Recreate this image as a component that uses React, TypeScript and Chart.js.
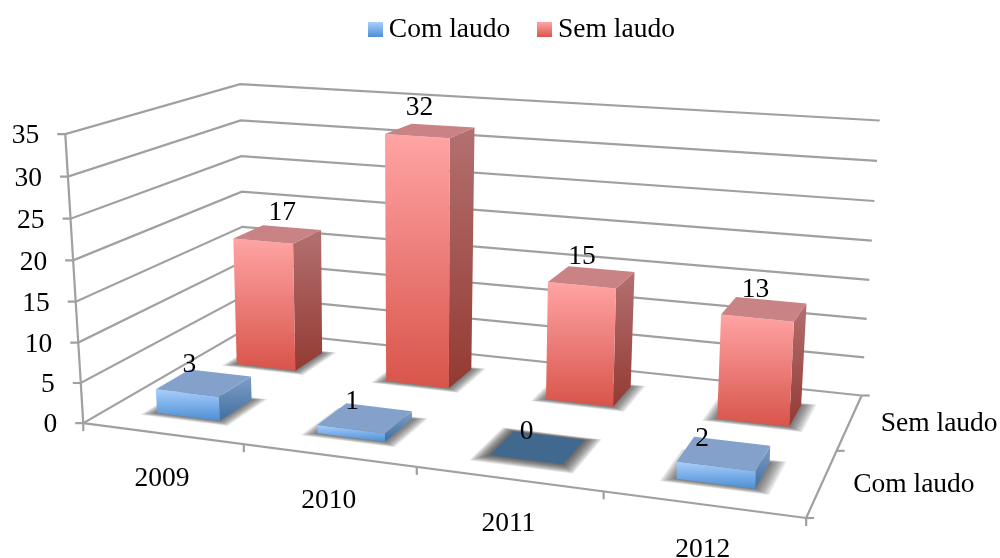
import React, { useEffect, useRef } from "react";
import { Chart, registerables } from "chart.js";

Chart.register(...registerables);

const years = ["2009", "2010", "2011", "2012"];
const rows = ["Com laudo", "Sem laudo"];
const comLaudo = [3, 1, 0, 2];
const semLaudo = [17, 32, 15, 13];
const yMax = 35;
const yStep = 5;

const FONT = '27.5px "Liberation Serif"';
const GRID = "#a0a0a0";

type P = [number, number];
type Ref = { uv: P; xy: P };
// Projected reference points of the 3D box (u along years, d into depth)
const floorRefs: Ref[] = [
  { uv: [0, 0], xy: [83, 422] },
  { uv: [0.25, 0], xy: [244, 444] },
  { uv: [0.5, 0], xy: [417, 467] },
  { uv: [0.75, 0], xy: [604, 492] },
  { uv: [1, 0], xy: [806, 518] },
  { uv: [1, 0.5], xy: [836, 452] },
  { uv: [1, 1], xy: [862, 394] },
  { uv: [0, 1], xy: [244, 331] },
];
// Full-height upright vector at each floor corner: front-left, front-right, back-right, back-left
const uprights: P[] = [
  [-18, -289],
  [8, -323],
  [18, -275],
  [-4, -246],
];
const HEIGHT_BEND = 0.035;

function solve(A: number[][], b: number[]): number[] {
  const n = b.length;
  const M = A.map((r, i) => [...r, b[i]]);
  for (let c = 0; c < n; c++) {
    let p = c;
    for (let r = c + 1; r < n; r++) if (Math.abs(M[r][c]) > Math.abs(M[p][c])) p = r;
    [M[c], M[p]] = [M[p], M[c]];
    for (let r = 0; r < n; r++) {
      if (r === c) continue;
      const f = M[r][c] / M[c][c];
      for (let k = c; k <= n; k++) M[r][k] -= f * M[c][k];
    }
  }
  return M.map((r, i) => r[n] / r[i]);
}

function fitPlane(refs: Ref[]) {
  const A: number[][] = [];
  const b: number[] = [];
  for (const { uv: [u, d], xy: [x, y] } of refs) {
    A.push([u, d, 1, 0, 0, 0, -x * u, -x * d]);
    b.push(x);
    A.push([0, 0, 0, u, d, 1, -y * u, -y * d]);
    b.push(y);
  }
  const idx = [0, 1, 2, 3, 4, 5, 6, 7];
  const N = idx.map((i) => idx.map((j) => A.reduce((s, r) => s + r[i] * r[j], 0)));
  const V = idx.map((i) => A.reduce((s, r, k) => s + r[i] * b[k], 0));
  const h = solve(N, V);
  return (u: number, d: number): P => {
    const w = h[6] * u + h[7] * d + 1;
    return [(h[0] * u + h[1] * d + h[2]) / w, (h[3] * u + h[4] * d + h[5]) / w];
  };
}
const floorAt = fitPlane(floorRefs);
function project(u: number, d: number, v: number): P {
  const f = floorAt(u, d);
  const t = v / (1 + HEIGHT_BEND * (1 - v));
  const mix = (i: 0 | 1) =>
    (1 - d) * ((1 - u) * uprights[0][i] + u * uprights[1][i]) +
    d * ((1 - u) * uprights[3][i] + u * uprights[2][i]);
  return [f[0] + t * mix(0), f[1] + t * mix(1)];
}

const blue = { top: "#83a1ca", f0: "#a9cefc", f1: "#4c8fd4", s0: "#7f9dc7", s1: "#3f709f" };
const red = { top: "#c98384", f0: "#ffa4a4", f1: "#d8544a", s0: "#b37070", s1: "#933a32" };
const ZERO_FILL = "#41688f";
// Hand placement of the value labels relative to their bars, per row then year
const labelNudge = [
  [2, 1, 0, -14],
  [19, 2, 0, -2],
];

function poly(ctx: CanvasRenderingContext2D, pts: P[]) {
  ctx.beginPath();
  pts.forEach((p, i) => (i ? ctx.lineTo(p[0], p[1]) : ctx.moveTo(p[0], p[1])));
  ctx.closePath();
}
function line(ctx: CanvasRenderingContext2D, a: P, b: P) {
  ctx.beginPath();
  ctx.moveTo(a[0], a[1]);
  ctx.lineTo(b[0], b[1]);
  ctx.stroke();
}

function swatch(c0: string, c1: string) {
  const cv = document.createElement("canvas");
  cv.width = 15;
  cv.height = 15;
  const g = cv.getContext("2d")!;
  const gr = g.createLinearGradient(0, 0, 0, 15);
  gr.addColorStop(0, c0);
  gr.addColorStop(1, c1);
  g.fillStyle = gr;
  g.fillRect(0, 0, 15, 15);
  return cv;
}

const box3d = {
  id: "box3d",
  beforeDatasetsDraw(chart: any) {
    const { ctx, chartArea: area, scales } = chart;
    const yS = scales.y;
    const xS = scales.x;
    const toV = (val: number) => (area.bottom - yS.getPixelForValue(val)) / area.height;

    ctx.save();
    ctx.strokeStyle = GRID;
    ctx.lineWidth = 2.2;
    ctx.lineCap = "butt";

    for (const t of yS.ticks) {
      const v = toV(t.value);
      const a = project(0, 0, v);
      const b = project(0, 1, v);
      const c = project(1, 1, v);
      ctx.beginPath();
      ctx.moveTo(a[0] - 8, a[1]);
      ctx.lineTo(a[0], a[1]);
      ctx.lineTo(b[0], b[1]);
      ctx.lineTo(c[0], c[1]);
      ctx.stroke();
    }
    line(ctx, project(0, 0, 1), project(0, 0, 0));
    line(ctx, project(0, 0, 0), project(1, 0, 0));
    line(ctx, project(1, 0, 0), project(1, 1, 0));
    for (let i = 0; i <= years.length; i++) {
      const p = project(i / years.length, 0, 0);
      line(ctx, p, [p[0], p[1] + 8]);
    }
    for (let i = 0; i <= rows.length; i++) {
      const p = project(1, i / rows.length, 0);
      line(ctx, p, [p[0] + 8, p[1]]);
    }

    const labelsToDraw: { text: string; x: number; y: number }[] = [];
    for (let ds = chart.data.datasets.length - 1; ds >= 0; ds--) {
      const meta = chart.getDatasetMeta(ds);
      const pal = ds === 0 ? blue : red;
      const d0 = (ds + 0.3) / rows.length;
      const d1 = (ds + 0.7) / rows.length;
      meta.data.forEach((el: any, j: number) => {
        const u0 = (el.x - el.width / 2 - area.left) / area.width;
        const u1 = (el.x + el.width / 2 - area.left) / area.width;
        const v = (el.base - el.y) / area.height;

        // soft floor shadow, built up from growing translucent footprints
        const zero = v === 0;
        const layers = 9;
        for (let k = layers; k >= 1; k--) {
          const eu = (k * (zero ? 1.8 : 1.7)) / 760;
          const eb = (k * 1.0) / 130;
          const ef = (k * (zero ? 0.8 : 0.45)) / 130;
          ctx.fillStyle = zero ? "rgba(45,45,45,0.13)" : "rgba(45,45,45,0.1)";
          poly(ctx, [
            project(u0 - eu * 0.9, d0 - ef, 0),
            project(u1 + eu, d0 - ef, 0),
            project(u1 + eu, d1 + eb * 0.3, 0),
            project(u0 - eu * 0.9, d1 + eb * 0.3, 0),
          ]);
          ctx.fill();
        }

        const ftl = project(u0, d0, v);
        const ftr = project(u1, d0, v);
        const btr = project(u1, d1, v);
        const btl = project(u0, d1, v);
        const fbl = project(u0, d0, 0);
        const fbr = project(u1, d0, 0);
        const bbr = project(u1, d1, 0);

        if (!zero) {
          const sg = ctx.createLinearGradient(0, Math.min(ftr[1], btr[1]), 0, fbr[1]);
          sg.addColorStop(0, pal.s0);
          sg.addColorStop(1, pal.s1);
          ctx.fillStyle = sg;
          poly(ctx, [ftr, btr, bbr, fbr]);
          ctx.fill();
          const fg = ctx.createLinearGradient(0, ftl[1], 0, fbr[1]);
          fg.addColorStop(0, pal.f0);
          fg.addColorStop(1, pal.f1);
          ctx.fillStyle = fg;
          poly(ctx, [ftl, ftr, fbr, fbl]);
          ctx.fill();
        }
        ctx.fillStyle = zero ? ZERO_FILL : pal.top;
        poly(ctx, [ftl, ftr, btr, btl]);
        ctx.fill();

        labelsToDraw.push({
          text: String(chart.data.datasets[ds].data[j]),
          x: (ftl[0] + ftr[0]) / 2 + labelNudge[ds][j],
          y: (ftl[1] + ftr[1]) / 2 - 28,
        });
      });
    }

    ctx.font = FONT;
    ctx.fillStyle = "#000";
    ctx.textBaseline = "middle";
    ctx.textAlign = "right";
    for (const t of yS.ticks) {
      const a = project(0, 0, toV(t.value));
      ctx.fillText(String(t.value), a[0] - 26, a[1] + 2);
    }
    ctx.textAlign = "center";
    years.forEach((label, i) => {
      const u = (xS.getPixelForValue(i) - area.left) / area.width;
      const p = project(u, 0, 0);
      ctx.fillText(label, p[0], p[1] + 45);
    });
    ctx.textAlign = "left";
    rows.forEach((label, i) => {
      const p = project(1, (i + 0.5) / rows.length, 0);
      ctx.fillText(label, p[0] + 31, p[1] + 2);
    });
    ctx.textAlign = "center";
    for (const l of labelsToDraw) ctx.fillText(l.text, l.x, l.y);
    ctx.restore();
  },
};

export default function App() {
  const ref = useRef<HTMLCanvasElement>(null);
  useEffect(() => {
    const chart = new Chart(ref.current!, {
      type: "bar",
      data: {
        labels: years,
        datasets: [
          { label: rows[0], data: comLaudo, backgroundColor: "transparent", borderWidth: 0 },
          { label: rows[1], data: semLaudo, backgroundColor: "transparent", borderWidth: 0 },
        ],
      },
      plugins: [box3d],
      options: {
        animation: false,
        responsive: false,
        layout: { padding: { left: 50, top: -18 } },
        datasets: { bar: { grouped: false, barPercentage: 0.4, categoryPercentage: 1 } },
        scales: {
          x: { display: false },
          y: { display: false, min: 0, max: yMax, ticks: { stepSize: yStep } },
        },
        plugins: {
          tooltip: { enabled: false },
          legend: {
            position: "top",
            labels: {
              usePointStyle: true,
              boxWidth: 0.01,
              padding: 34,
              color: "#000",
              font: { family: "Liberation Serif", size: 27.5 },
              generateLabels: () =>
                rows.map((text, i) => ({
                  text,
                  datasetIndex: i,
                  fontColor: "#000",
                  lineWidth: 0,
                  pointStyle: i === 0 ? swatch("#a9cefc", "#4c8fd4") : swatch("#ffa4a4", "#d8544a"),
                })),
            },
          },
        },
      },
    } as any);
    return () => chart.destroy();
  }, []);
  return (
    <canvas
      ref={ref}
      width={1000}
      height={558}
      style={{ position: "absolute", left: 0, top: 0, display: "block" }}
    />
  );
}
